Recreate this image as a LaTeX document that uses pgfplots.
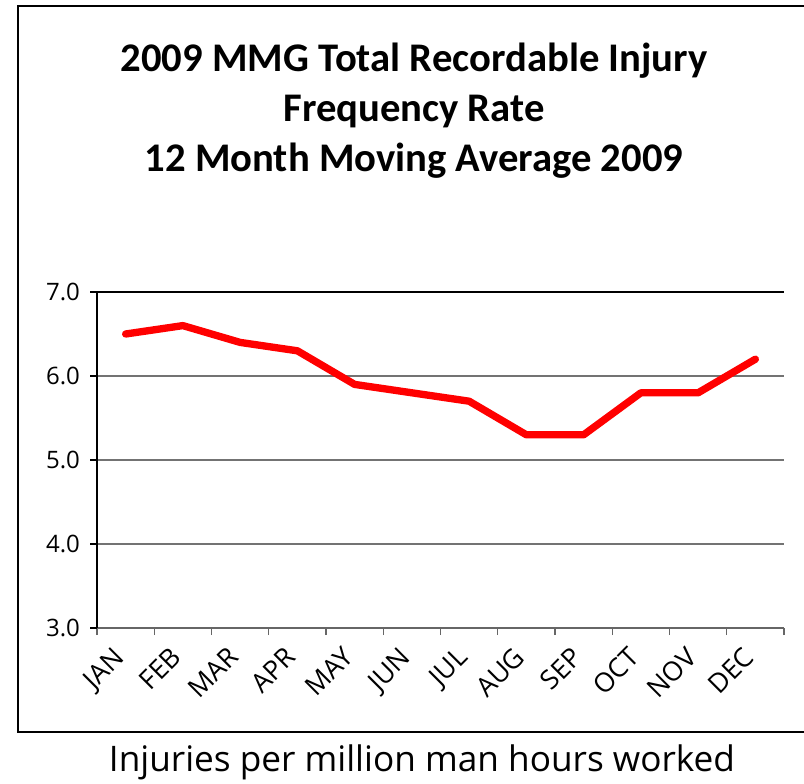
\documentclass[border=0pt]{standalone}
\usepackage{fontspec}
\setmainfont{Carlito}
\newfontfamily\segoe{Open Sans}
\usepackage{pgfplots}
\pgfplotsset{compat=1.18}
\begin{document}
\begin{tikzpicture}
\useasboundingbox (0,0) rectangle (603pt,587.25pt);
\begin{scope}
\clip (0,0) rectangle (603pt,587.25pt);
\draw[line width=1.2pt] (13.5pt,38.25pt) rectangle (620pt,582.75pt);
\end{scope}
\begin{axis}[
  at={(72.75pt,116.25pt)}, anchor=south west,
  width=515.25pt, height=252pt, scale only axis,
  xmin=0.5, xmax=12.5, ymin=3, ymax=7,
  axis x line*=bottom, axis y line*=left,
  x axis line style={draw=gray!80!black, line width=0.8pt, -},
  y axis line style={draw=black, line width=0.8pt, -},
  xtick={1,...,12},
  xticklabels={JAN,FEB,MAR,APR,MAY,JUN,JUL,AUG,SEP,OCT,NOV,DEC},
  major x tick style={draw=none},
  minor xtick={0.5,1.5,...,12.5},
  minor x tick style={draw=gray!80!black, line width=0.8pt},
  minor tick length=5.25pt,
  ytick={3,4,5,6},
  extra y ticks={7},
  extra y tick style={grid style={draw=black, line width=0.8pt}},
  extra y tick labels={7.0},
  ymajorgrids,
  grid style={draw=gray!90!black, line width=0.8pt},
  tick align=outside,
  major tick length=5.25pt,
  y tick style={draw=black, line width=0.8pt},
  /pgf/number format/assume math mode=true,
  /pgf/number format/fixed,
  /pgf/number format/fixed zerofill,
  /pgf/number format/precision=1,
  yticklabel style={font=\segoe\fontsize{18pt}{21pt}\selectfont, anchor=east, xshift=-4pt},
  xticklabel style={font=\segoe\fontsize{20pt}{23pt}\selectfont, xshift=-10pt, yshift=-3pt, rotate=45, anchor=north east},
  clip=false,
]
\addplot[red, line width=5.5pt, line join=round, line cap=round] coordinates {
(1,6.5) (2,6.6) (3,6.4) (4,6.3) (5,5.9) (6,5.8) (7,5.7) (8,5.3) (9,5.3) (10,5.8) (11,5.8) (12,6.2)
};
\end{axis}
\node[anchor=base, font=\bfseries\fontsize{30.5pt}{34pt}\selectfont] at (310.5pt,533.25pt) {2009 MMG Total Recordable Injury};
\node[anchor=base, font=\bfseries\fontsize{30.5pt}{34pt}\selectfont] at (310.5pt,495.75pt) {Frequency Rate};
\node[anchor=base, font=\bfseries\fontsize{30.5pt}{34pt}\selectfont] at (310.5pt,458.25pt) {12 Month Moving Average 2009};
\node[anchor=base, font=\segoe\fontsize{26.4pt}{30pt}\selectfont] at (316.5pt,9pt) {Injuries per million man hours worked};
\end{tikzpicture}
\end{document}
